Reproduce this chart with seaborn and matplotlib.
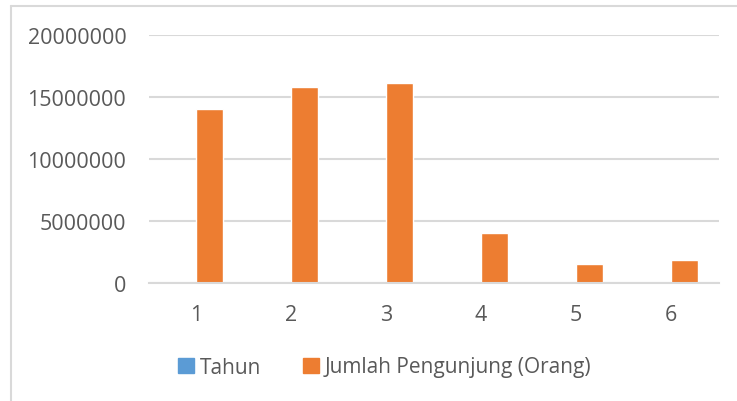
import matplotlib
matplotlib.use("Agg")
import matplotlib.pyplot as plt
import seaborn as sns
import pandas as pd
from matplotlib.lines import Line2D

# data
categories = [1, 2, 3, 4, 5, 6]
tahun = [2017, 2018, 2019, 2020, 2021, 2022]
pengunjung = [14040000, 15830000, 16110000, 4050000, 1560000, 1850000]
series_names = ["Tahun", "Jumlah Pengunjung (Orang)"]
colors = ["#5B9BD5", "#ED7D31"]

df = pd.DataFrame({
    "kategori": categories * 2,
    "nilai": tahun + pengunjung,
    "seri": [series_names[0]] * len(tahun) + [series_names[1]] * len(pengunjung),
})

sns.set_style("white")
plt.rcParams["font.family"] = ["Open Sans", "DejaVu Sans"]

fig = plt.figure(figsize=(7.37, 4.02), dpi=100)
ax = fig.add_axes([148.5 / 737, 1 - 284 / 402, 570 / 737, 248 / 402])

sns.barplot(data=df, x="kategori", y="nilai", hue="seri", palette=colors,
            width=0.57, dodge=True, ax=ax, legend=False, saturation=1)

ax.set_ylim(0, 20000000)
ax.set_yticks([0, 5000000, 10000000, 15000000, 20000000])
ax.set_yticklabels(["0", "5000000", "10000000", "15000000", "20000000"])
ax.set_xlabel("")
ax.set_ylabel("")
ax.yaxis.grid(True, color="#D9D9D9", linewidth=1.5)
ax.set_axisbelow(True)
for s in ["top", "right", "left"]:
    ax.spines[s].set_visible(False)
ax.spines["bottom"].set_color("#D9D9D9")
ax.spines["bottom"].set_linewidth(1.5)
ax.tick_params(axis="y", length=0, pad=16, labelsize=15.5, labelcolor="#595959")
ax.tick_params(axis="x", length=0, pad=15, labelsize=15.5, labelcolor="#595959")

handles = [plt.Rectangle((0, 0), 1, 1, color=c) for c in colors]
fig.legend(handles, series_names, loc="center", bbox_to_anchor=(385 / 737, 1 - 368 / 402),
           ncol=2, frameon=False, fontsize=15, labelcolor="#595959",
           handlelength=0.75, handleheight=0.75, handletextpad=0.3, columnspacing=2.0)

# chart frame (cropped at right and bottom)
fig.add_artist(Line2D([11 / 737, 11 / 737], [0, 1 - 7 / 402], color="#D9D9D9", linewidth=1.5))
fig.add_artist(Line2D([11 / 737, 1], [1 - 7 / 402, 1 - 7 / 402], color="#D9D9D9", linewidth=1.5))

fig.savefig("out.png", dpi=100)
